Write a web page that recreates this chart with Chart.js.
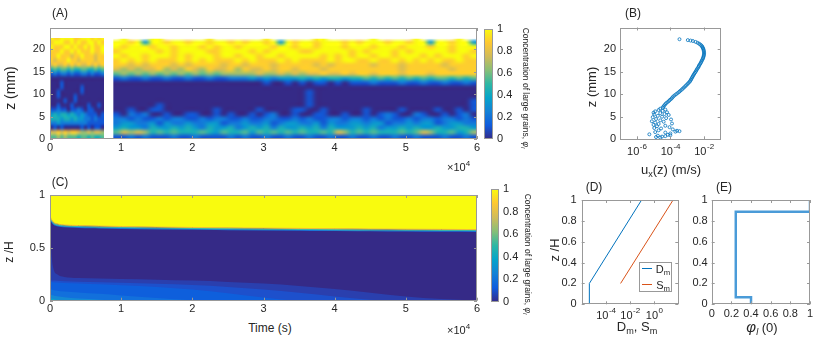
<!DOCTYPE html>
<html>
<head>
<meta charset="utf-8">
<script src="https://cdn.jsdelivr.net/npm/chart.js@4.4.0/dist/chart.umd.min.js"></script>
<style>
  body { margin: 0; background: #fff; font-family: "Liberation Sans", Arial, Helvetica, sans-serif; color: #262626; }
  #fig { position: relative; width: 830px; height: 341px; overflow: hidden; }
  .box { position: absolute; }
  .t { position: absolute; white-space: nowrap; line-height: 1; transform: translate(-50%, -50%); }
  .rl { transform: translate(-50%, -50%) rotate(-90deg); }
  .rr { transform: translate(-50%, -50%) rotate(90deg); }
  sub { font-size: 70%; vertical-align: baseline; position: relative; top: 0.3em; }
  .sup { font-size: 8px; position: relative; top: -5px; }
</style>
</head>
<body>
<div id="fig">
  <div class="box" style="left:0;top:0;width:482px;height:160px"><canvas id="chartA"></canvas></div>
  <div class="box" style="left:470px;top:0;width:52px;height:160px"><canvas id="barA"></canvas></div>
  <div class="box" style="left:560px;top:0;width:170px;height:160px"><canvas id="chartB"></canvas></div>
  <div class="box" style="left:0;top:170px;width:482px;height:150px"><canvas id="chartC"></canvas></div>
  <div class="box" style="left:476px;top:170px;width:52px;height:150px"><canvas id="barC"></canvas></div>
  <div class="box" style="left:540px;top:170px;width:145px;height:160px"><canvas id="chartD"></canvas></div>
  <div class="box" style="left:690px;top:170px;width:140px;height:160px"><canvas id="chartE"></canvas></div>

  <div class="t" style="left:60px;top:13px;font-size:12px">(A)</div>
  <div class="t" style="left:633px;top:13px;font-size:12px">(B)</div>
  <div class="t" style="left:60px;top:182px;font-size:12px">(C)</div>
  <div class="t" style="left:594px;top:187px;font-size:12px">(D)</div>
  <div class="t" style="left:724px;top:187px;font-size:12px">(E)</div>

  <div class="t rl" style="left:10px;top:88px;font-size:14px">z (mm)</div>
  <div class="t rl" style="left:591px;top:87px;font-size:13px">z (mm)</div>
  <div class="t" style="left:671px;top:170px;font-size:13px">u<sub>x</sub>(z) (m/s)</div>
  <div class="t rl" style="left:9px;top:252px;font-size:12px">z /H</div>
  <div class="t" style="left:270px;top:328px;font-size:12px">Time (s)</div>
  <div class="t rl" style="left:554px;top:250px;font-size:13px">z /H</div>
  <div class="t" style="left:637px;top:327px;font-size:13px">D<sub>m</sub>, S<sub>m</sub></div>
  <div class="t" style="left:762px;top:327px;font-size:13px"><i style="font-size:15px">φ</i><sub><i>l</i></sub> (0)</div>

  <div style="position:absolute;left:447px;top:162px;font-size:11px;line-height:1;white-space:nowrap">×10<span class="sup">4</span></div>
  <div style="position:absolute;left:447px;top:325px;font-size:11px;line-height:1;white-space:nowrap">×10<span class="sup">4</span></div>

  <div class="t rr" style="left:526px;top:88px;font-size:8.5px">Concentration of large grains, <i>φ</i><sub><i>l</i></sub></div>
  <div class="t rr" style="left:528px;top:254px;font-size:8.5px">Concentration of large grains, <i>φ</i><sub><i>l</i></sub></div>

  <div style="position:absolute;left:639px;top:262px;width:31px;height:28px;border:1px solid #999;background:#fff">
    <div style="position:absolute;left:2px;top:5px;width:10px;height:0;border-top:1.2px solid #0072bd"></div>
    <div class="t" style="left:23px;top:6px;font-size:11px">D<sub>m</sub></div>
    <div style="position:absolute;left:2px;top:21px;width:10px;height:0;border-top:1.2px solid #d95319"></div>
    <div class="t" style="left:23px;top:22px;font-size:11px">S<sub>m</sub></div>
  </div>
</div>

<script>
// ---- data ----
// (A) measured concentration, rows top (z 22-23) to bottom (z 0-1), one digit per column, value = d/9, '.' = no data
const zEdgesA = [23, 22, 21, 20, 19, 18, 17, 16, 15, 14, 13, 12, 11, 10, 9, 8, 7, 6, 5, 4, 3, 2, 1, 0];
const earlySpan = [0, 7600];
const earlyTop = 22.5;
const earlyRows = [
  '9889999889998989', '8999889898899898', '9888998988989889', '8889889898889889',
  '8898887889888788', '8788898878888788', '7877878787787878', '4545545445544545',
  '1212212112212112', '0000000000000000', '0001000000000000', '0001000001000000',
  '0010000001000000', '0010000100000000', '0000100100000000', '0010001000010010',
  '1121101121011000', '3434434323211101', '4443443433221211', '2232222222211111',
  '0101000001010110', '7787878876676776', '5565655545545445'
];
const lateSpan = [8900, 60000];
const lateTop = 22.3;
const lateRows = [
  '.9...99......9.......9......99......9.....9.....9..',
  '998939989989989989899893989989998989998998993998993',
  '989998998999898998999989989989998999899989998998999',
  '899999898999988999989899998899999898999898999998998',
  '989989998989998998998998999998989899899899989899989',
  '898989888989898889898889898888989988988989898988988',
  '887878887878888788788878888878788888788878888878888',
  '767677867687687786877878878887888888888878888887888',
  '565656565656565666667667676778778788788878887888888',
  '121121121121121122232323334343443445454545454554545',
  '000000000000000000000100101011010111211121121121121',
  '000000000000000000000000000000000000000000000000000',
  '000000000000000000000000000100000000000000000000000',
  '000000000000000000000000000100000000000000000000000',
  '000000000000000000000000000100000000000000000000001',
  '000000100000000000000000000100000000000000000000001',
  '001001100000001000001000011001000001000010000100101',
  '102120010011001010010120010011001001012100210010120',
  '221211212211212211211221121211221221212112122122121',
  '233223132232233122322312332231322332331223233123322',
  '343324334343243342343424334342433343423343433433443',
  '576764545444543544535454545445476454544454576445346',
  '112121112112111121211211211211211211211211211121121'
];

// (B) velocity profile
const zB = [22.2, 22.0, 21.9, 21.8, 21.6, 21.4, 21.2, 21.0, 20.8, 20.6, 20.4, 20.2, 20.0, 19.75, 19.5, 19.25, 19.0,
  18.75, 18.5, 18.25, 18.0, 17.75, 17.5, 17.25, 17.0, 16.75, 16.5, 16.25, 16.0, 15.75, 15.5, 15.25, 15.0,
  14.75, 14.5, 14.25, 14.0, 13.75, 13.5, 13.25, 13.0, 12.75, 12.5, 12.25, 12.0, 11.75, 11.5, 11.25, 11.0,
  10.75, 10.5, 10.25, 10.0, 9.75, 9.5, 9.25, 9.0, 8.75, 8.5, 8.25, 8.0, 7.75, 7.5, 7.25, 7.0,
  6.8, 6.6, 6.5, 6.3, 6.2, 6.0, 5.9, 5.8, 5.6, 5.5, 5.4, 5.2, 5.0, 4.9, 4.7, 4.5, 4.4, 4.2, 4.0, 3.9,
  3.7, 3.5, 3.4, 3.2, 3.0, 2.9, 2.7, 2.5, 2.4, 2.2, 2.0, 1.9, 1.8, 1.7, 1.6, 1.5, 1.3, 1.1, 1.0, 0.9,
  0.8, 0.7, 0.6, 0.5, 0.4];
const uxB = [3.5e-4, 1.1e-3, 1.6e-3, 2.2e-3, 3.2e-3, 4.2e-3, 5.2e-3, 6.2e-3, 7.1e-3, 7.8e-3, 8.3e-3, 8.8e-3, 9.3e-3, 9.7e-3, 1.0e-2, 1.02e-2, 1.02e-2,
  1.0e-2, 9.7e-3, 9.3e-3, 8.9e-3, 8.3e-3, 7.6e-3, 7.1e-3, 6.6e-3, 6.0e-3, 5.4e-3, 5.0e-3, 4.7e-3, 4.2e-3, 3.8e-3, 3.5e-3, 3.2e-3,
  2.9e-3, 2.6e-3, 2.4e-3, 2.2e-3, 2.0e-3, 1.85e-3, 1.7e-3, 1.55e-3, 1.4e-3, 1.2e-3, 1.05e-3, 8.9e-4, 7.7e-4, 6.5e-4, 5.5e-4, 4.7e-4,
  3.9e-4, 3.3e-4, 2.7e-4, 2.2e-4, 1.8e-4, 1.5e-4, 1.3e-4, 1.15e-4, 9.5e-5, 8.2e-5, 6.8e-5, 5.6e-5, 4.9e-5, 4.3e-5, 3.8e-5, 3.5e-5,
  2.5e-5, 5.0e-5, 2.0e-5, 3.5e-5, 1.25e-5, 6.3e-5, 1.0e-5, 2.5e-5, 4.5e-5, 1.1e-5, 8.0e-5, 1.8e-5, 3.2e-5, 8.9e-6, 5.6e-5, 1.4e-5, 1.1e-4, 2.5e-5, 7.9e-6, 4.0e-5,
  1.25e-5, 1.25e-4, 2.0e-5, 1.0e-5, 5.0e-5, 1.6e-5, 8.9e-5, 1.1e-5, 2.8e-5, 1.4e-4, 2.0e-5, 2.5e-4, 3.5e-4, 2.0e-4, 1.25e-5, 5.0e-5, 1.0e-4, 5.6e-6, 7.1e-5, 1.0e-4,
  1.8e-5, 5.0e-5, 3.2e-5, 1.4e-5, 2.5e-5];

// (C) model, contours of the concentration field vs time
const timesC = [0, 200, 500, 1000, 2000, 4000, 7000, 10000, 15000, 20000, 25000, 30000, 35000, 40000, 45000, 50000, 55000, 60000];
const interfaceTop = [0.80, 0.77, 0.742, 0.727, 0.717, 0.711, 0.706, 0.702, 0.697, 0.693, 0.69, 0.687, 0.684, 0.681, 0.679, 0.677, 0.675, 0.673];
const interfaceMid = [0.791, 0.761, 0.733, 0.718, 0.708, 0.702, 0.697, 0.693, 0.688, 0.684, 0.681, 0.678, 0.675, 0.672, 0.67, 0.668, 0.666, 0.664];
const interfaceLow = [0.783, 0.753, 0.725, 0.71, 0.70, 0.694, 0.689, 0.685, 0.68, 0.676, 0.673, 0.67, 0.667, 0.664, 0.662, 0.66, 0.658, 0.656];
const layer05 = [0.76, 0.45, 0.3, 0.25, 0.225, 0.215, 0.21, 0.205, 0.198, 0.19, 0.178, 0.162, 0.14, 0.11, 0.075, 0.04, 0.015, 0];
const layer08 = [0.195, 0.192, 0.19, 0.188, 0.185, 0.18, 0.175, 0.17, 0.16, 0.148, 0.13, 0.105, 0.075, 0.04, 0.01, 0, 0, 0];
const layer11 = [0.18, 0.178, 0.175, 0.172, 0.168, 0.162, 0.155, 0.147, 0.13, 0.105, 0.07, 0.03, 0, 0, 0, 0, 0, 0];
const layer15 = [0.11, 0.105, 0.1, 0.095, 0.088, 0.078, 0.065, 0.05, 0.025, 0.005, 0, 0, 0, 0, 0, 0, 0, 0];
const layer20 = [0.06, 0.055, 0.05, 0.042, 0.032, 0.02, 0.01, 0.003, 0, 0, 0, 0, 0, 0, 0, 0, 0, 0];
const layer30 = [0.025, 0.02, 0.015, 0.008, 0.003, 0, 0, 0, 0, 0, 0, 0, 0, 0, 0, 0, 0, 0];

// (D) diffusion / segregation coefficients
const dmX = [4.3e-6, 4.3e-6, 0.091];
const dmZ = [0, 0.2, 1];
const smX = [1.66e-3, 37];
const smZ = [0.2, 1];

// (E) initial concentration profile
const phi0 = [0.4, 0.4, 0.245, 0.245, 1, 1];
const phiZ = [0, 0.067, 0.067, 0.888, 0.888, 1];

// ticks
const timeTicks = [0, 10000, 20000, 30000, 40000, 50000, 60000];
const mmTicks = [0, 5, 10, 15, 20];
const halfTicks = [0, 0.5, 1];
const fifthTicks = [0, 0.2, 0.4, 0.6, 0.8, 1];

// ---- colours / helpers ----
const parula = ['#352a87', '#0f5cdd', '#1481d6', '#06a4ca', '#2eb7a4', '#87bf77', '#d1bb59', '#fec832', '#f9fb0e'];
const hexRgb = h => [1, 3, 5].map(i => parseInt(h.slice(i, i + 2), 16));
function parulaRgb(v) {
  v = Math.max(0, Math.min(1, v)) * (parula.length - 1);
  const i = Math.min(Math.floor(v), parula.length - 2), f = v - i;
  const a = hexRgb(parula[i]), b = hexRgb(parula[i + 1]);
  return a.map((c, k) => Math.round(c + (b[k] - c) * f));
}
const pts = (xs, ys) => xs.map((x, i) => ({ x: x, y: ys[i] }));
const fmtNum = v => String(+(+v).toFixed(2));

Chart.defaults.font.family = '"Liberation Sans", Arial, Helvetica, sans-serif';
Chart.defaults.font.size = 11;
Chart.defaults.color = '#262626';
Chart.defaults.animation = false;
Chart.defaults.responsive = true;
Chart.defaults.maintainAspectRatio = false;
Chart.defaults.devicePixelRatio = 1;
Chart.defaults.plugins.legend.display = false;
Chart.defaults.plugins.tooltip.enabled = false;

function axis(o) {
  return {
    type: o.type || 'linear', position: o.pos, min: o.min, max: o.max, bounds: 'data',
    display: o.display !== false,
    grid: { display: false, drawTicks: false }, border: { display: false },
    ticks: { autoSkip: false, maxRotation: 0, padding: o.pad ?? 3, callback: o.fmt || fmtNum },
    afterBuildTicks: s => { s.ticks = (o.ticks || []).map(v => ({ value: v })); },
    afterFit: s => {
      if (s.isHorizontal()) s.height = o.size; else s.width = o.size;
      s.paddingLeft = s.paddingRight = s.paddingTop = s.paddingBottom = 0;
    }
  };
}

// matlab-like box with inward ticks
Chart.register({
  id: 'mbox',
  afterDraw(chart, args, opts) {
    const { ctx, chartArea: a } = chart;
    ctx.save();
    ctx.strokeStyle = '#999';
    ctx.lineWidth = 1;
    ctx.strokeRect(Math.round(a.left) + 0.5, Math.round(a.top) + 0.5, Math.round(a.right - a.left) - 1, Math.round(a.bottom - a.top) - 1);
    if (opts.ticks !== false) {
      ctx.beginPath();
      Object.values(chart.scales).forEach(s => {
        if (!s.options.display) return;
        s.ticks.forEach(t => {
          const p = Math.round(s.getPixelForValue(t.value)) + 0.5;
          if (s.isHorizontal()) {
            ctx.moveTo(p, a.bottom); ctx.lineTo(p, a.bottom - 3);
            ctx.moveTo(p, a.top); ctx.lineTo(p, a.top + 3);
          } else {
            ctx.moveTo(a.left, p); ctx.lineTo(a.left + 3, p);
            ctx.moveTo(a.right, p); ctx.lineTo(a.right - 3, p);
          }
        });
      });
      ctx.stroke();
    }
    ctx.restore();
  }
});

// heatmap: one texel per cell, stretched onto the span given by the chart scales (smoothed like an interpolated image)
Chart.register({
  id: 'heatmap',
  beforeDatasetsDraw(chart, args, opts) {
    if (!opts.blocks) return;
    const { ctx, chartArea: a, scales: { x, y } } = chart;
    opts.blocks.forEach(b => {
      const nr = b.rows.length;
      const nc = Math.max(...b.rows.map(r => r.length));
      const img = document.createElement('canvas');
      img.width = nc; img.height = nr;
      const ic = img.getContext('2d');
      const data = ic.createImageData(nc, nr);
      b.rows.forEach((row, r) => {
        for (let c = 0; c < nc; c++) {
          const ch = row[c] ?? row[row.length - 1], k = (r * nc + c) * 4;
          if (ch === '.') { data.data[k + 3] = 0; continue; }
          const rgb = parulaRgb(+ch / 9);
          data.data[k] = rgb[0]; data.data[k + 1] = rgb[1]; data.data[k + 2] = rgb[2]; data.data[k + 3] = 255;
        }
      });
      ic.putImageData(data, 0, 0);
      const x0 = x.getPixelForValue(b.span[0]), x1 = x.getPixelForValue(b.span[1]);
      const yT = y.getPixelForValue(b.zEdges[0]), yB = y.getPixelForValue(b.zEdges[nr]);
      const yClip = Math.max(y.getPixelForValue(b.top), a.top);
      ctx.save();
      ctx.beginPath();
      ctx.rect(Math.max(x0, a.left), yClip, Math.min(x1, a.right) - Math.max(x0, a.left), yB - yClip);
      ctx.clip();
      ctx.imageSmoothingEnabled = true;
      ctx.imageSmoothingQuality = 'high';
      ctx.drawImage(img, x0, yT, x1 - x0, yB - yT);
      ctx.restore();
    });
  }
});

// plain background of the plot area
Chart.register({
  id: 'areaFill',
  beforeDatasetsDraw(chart, args, opts) {
    if (!opts.color) return;
    const { ctx, chartArea: a } = chart;
    ctx.save(); ctx.fillStyle = opts.color;
    ctx.fillRect(a.left, a.top, a.right - a.left, a.bottom - a.top);
    ctx.restore();
  }
});

// 10^n tick labels for log axes
Chart.register({
  id: 'powLabels',
  afterDraw(chart, args, opts) {
    if (opts.y === undefined) return;
    const s = chart.scales.x, ctx = chart.ctx;
    ctx.save(); ctx.fillStyle = '#262626'; ctx.textBaseline = 'middle'; ctx.textAlign = 'left';
    s.ticks.forEach(t => {
      const e = String(Math.round(Math.log10(t.value)));
      const p = s.getPixelForValue(t.value);
      ctx.font = '11px "Liberation Sans", Arial, sans-serif';
      const w1 = ctx.measureText('10').width;
      ctx.font = '8px "Liberation Sans", Arial, sans-serif';
      const w2 = ctx.measureText(e).width;
      const x0 = p - (w1 + w2) / 2;
      ctx.font = '11px "Liberation Sans", Arial, sans-serif';
      ctx.fillText('10', x0, opts.y);
      ctx.font = '8px "Liberation Sans", Arial, sans-serif';
      ctx.fillText(e, x0 + w1 + 0.5, opts.y - 5);
    });
    ctx.restore();
  }
});

const timeFmt = v => String(v / 10000);
const noLabel = () => '';

// (A)
new Chart(document.getElementById('chartA'), {
  type: 'scatter',
  data: { datasets: [] },
  options: {
    layout: { padding: { top: 28, right: 5 } },
    scales: {
      x: axis({ pos: 'bottom', min: 0, max: 60000, ticks: timeTicks, fmt: timeFmt, size: 21, pad: 2 }),
      y: axis({ pos: 'left', min: 0, max: 24.7, ticks: mmTicks, size: 50, pad: 5 })
    },
    plugins: {
      heatmap: { blocks: [
        { span: earlySpan, top: earlyTop, zEdges: zEdgesA, rows: earlyRows },
        { span: lateSpan, top: lateTop, zEdges: zEdgesA, rows: lateRows }
      ] }
    }
  }
});

// colour bars
function colorBar(id, pad, yw) {
  new Chart(document.getElementById(id), {
    type: 'bar',
    data: {
      labels: [''],
      datasets: [{
        data: [[0, 1]], barPercentage: 1, categoryPercentage: 1, borderWidth: 0,
        backgroundColor: c => {
          const a = c.chart.chartArea;
          if (!a) return parula[0];
          const g = c.chart.ctx.createLinearGradient(0, a.bottom, 0, a.top);
          parula.forEach((col, i) => g.addColorStop(i / (parula.length - 1), col));
          return g;
        }
      }]
    },
    options: {
      layout: { padding: pad },
      scales: {
        x: axis({ type: 'category', pos: 'bottom', display: false, size: 0 }),
        y: axis({ pos: 'right', min: 0, max: 1, ticks: fifthTicks, size: yw, pad: 4 })
      },
      plugins: { mbox: { ticks: false } }
    }
  });
}
colorBar('barA', { left: 14, top: 29, bottom: 21 }, 29);
colorBar('barC', { left: 15, top: 19, bottom: 18 }, 29);

// (B)
new Chart(document.getElementById('chartB'), {
  type: 'scatter',
  data: { datasets: [{
    data: pts(uxB, zB), pointStyle: 'circle', pointRadius: 1.5, borderWidth: 0.8,
    borderColor: '#0072bd', backgroundColor: 'rgba(0,0,0,0)'
  }] },
  options: {
    layout: { padding: { top: 27.5, right: 9.3 } },
    scales: {
      x: axis({ type: 'logarithmic', pos: 'bottom', min: 1e-7, max: 1e-1, ticks: [1e-6, 1e-4, 1e-2], fmt: noLabel, size: 20.7 }),
      y: axis({ pos: 'left', min: 0, max: 24.8, ticks: mmTicks, size: 60, pad: 4 })
    },
    plugins: { powLabels: { y: 152 } }
  }
});

// (C)
const layerSet = (arr, color, order) => ({
  data: pts(timesC, arr), fill: 'origin', backgroundColor: color, borderWidth: 0,
  pointRadius: 0, cubicInterpolationMode: 'monotone', order: order
});
new Chart(document.getElementById('chartC'), {
  type: 'line',
  data: { datasets: [
    layerSet(layer05, '#2a3fae', 20),
    layerSet(layer08, '#1d50cc', 19),
    layerSet(layer11, '#0e5fdc', 18),
    layerSet(layer15, '#1270dc', 17),
    layerSet(layer20, '#1489d4', 16),
    layerSet(layer30, '#0ea1c8', 15),
    { data: pts(timesC, interfaceLow), borderColor: '#1a72d8', borderWidth: 1.2, pointRadius: 0, fill: false, cubicInterpolationMode: 'monotone', order: 3 },
    { data: pts(timesC, interfaceMid), borderColor: '#3cb4a8', borderWidth: 1.2, pointRadius: 0, fill: false, cubicInterpolationMode: 'monotone', order: 2 },
    { data: pts(timesC, interfaceTop), borderColor: '#f0bf3a', borderWidth: 1, pointRadius: 0, fill: 'end', backgroundColor: '#f9fb0e', cubicInterpolationMode: 'monotone', order: 1 }
  ] },
  options: {
    layout: { padding: { top: 25, right: 5 } },
    scales: {
      x: axis({ pos: 'bottom', min: 0, max: 60000, ticks: timeTicks, fmt: timeFmt, size: 19.3, pad: 2 }),
      y: axis({ pos: 'left', min: 0, max: 1, ticks: halfTicks, size: 50, pad: 5 })
    },
    plugins: { areaFill: { color: '#352a87' } }
  }
});

// (D)
new Chart(document.getElementById('chartD'), {
  type: 'scatter',
  data: { datasets: [
    { data: pts(dmX, dmZ), showLine: true, borderColor: '#0072bd', borderWidth: 1, pointRadius: 0 },
    { data: pts(smX, smZ), showLine: true, borderColor: '#d95319', borderWidth: 1, pointRadius: 0 }
  ] },
  options: {
    layout: { padding: { top: 30, right: 6.7 } },
    scales: {
      x: axis({ type: 'logarithmic', pos: 'bottom', min: 1e-6, max: 1e2, ticks: [1e-4, 1e-2, 1], fmt: noLabel, size: 25.7 }),
      y: axis({ pos: 'left', min: 0, max: 1, ticks: fifthTicks, size: 41.7, pad: 5 })
    },
    plugins: { powLabels: { y: 145.5 } }
  }
});

// (E)
new Chart(document.getElementById('chartE'), {
  type: 'scatter',
  data: { datasets: [
    { data: pts(phi0, phiZ), showLine: true, borderColor: '#4a9bd8', borderWidth: 2.5, pointRadius: 0 }
  ] },
  options: {
    layout: { padding: { top: 30, right: 20 } },
    scales: {
      x: axis({ pos: 'bottom', min: 0, max: 1, ticks: fifthTicks, size: 25.7, pad: 3 }),
      y: axis({ pos: 'left', min: 0, max: 1, ticks: fifthTicks, size: 21.7, pad: 4 })
    }
  }
});
</script>
</body>
</html>
